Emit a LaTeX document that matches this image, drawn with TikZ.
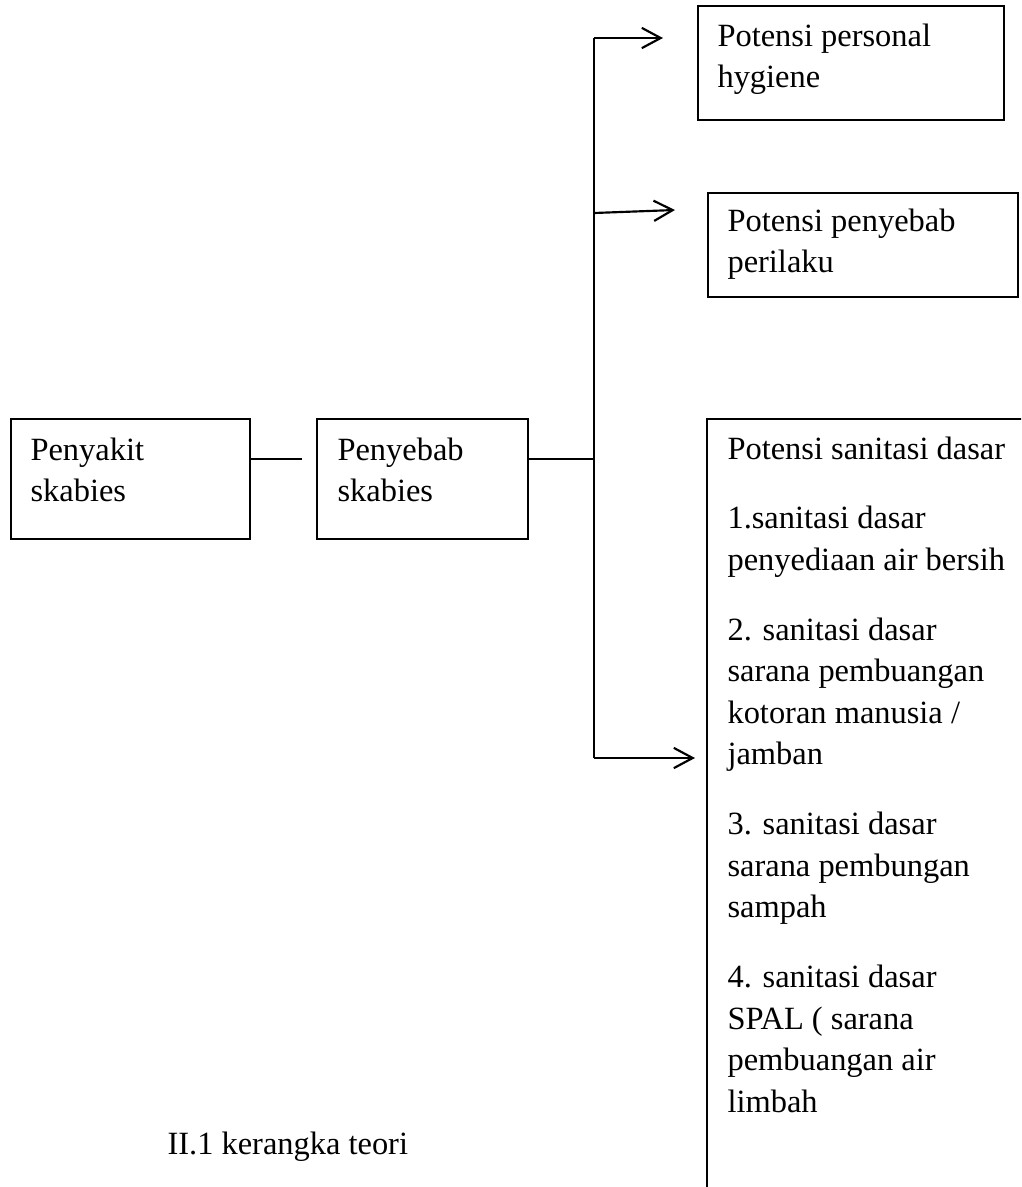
\documentclass[tikz,border=0pt]{standalone}
\usepackage{fontspec}
\setmainfont{Liberation Serif}
\usetikzlibrary{arrows.meta}
\tikzset{
	box/.style={draw, line width=0.6pt, anchor=north west, inner sep=0pt},
	txt/.style={anchor=north west, inner sep=0pt, align=left, font=\fontsize{12pt}{15.35pt}\selectfont},
	link/.style={line width=0.75pt},
	pointer/.style={line width=0.8pt, -{Straight Barb[length=7pt, width=7.5pt]}}
}

\begin{document}
\begin{tikzpicture}[x=0.013cm, y=-0.013cm]
			%%%%% START %%%%%
			\useasboundingbox (0, 0) rectangle (1021, 1187);
			\clip (0, 0) rectangle (1021, 1187);
			
			\node[box, minimum width=239*0.013cm, minimum height=120*0.013cm] (boxPenyakit) at (10, 418) {};
			\node[txt] (txtPenyakit) at (30, 437) {Penyakit\\skabies};
			
			\node[box, minimum width=211*0.013cm, minimum height=120*0.013cm] (boxPenyebab) at (316, 418) {};
			\node[txt] (txtPenyebab) at (337, 437) {Penyebab\\skabies};
			
			\node[box, minimum width=306*0.013cm, minimum height=114*0.013cm] (boxPersonal) at (697, 5) {};
			\node[txt] (txtPersonal) at (717, 23) {Potensi personal\\hygiene};
			
			\node[box, minimum width=310*0.013cm, minimum height=104*0.013cm] (boxPerilaku) at (707, 192) {};
			\node[txt] (txtPerilaku) at (727, 208) {Potensi penyebab\\perilaku};
			
			\node[box, minimum width=340*0.013cm, minimum height=800*0.013cm] (boxSanitasi) at (706, 418) {};
			\node[txt] (txtSanitasi) at (727, 436) {Potensi sanitasi dasar\\[10.5pt]
				1.sanitasi dasar\\
				penyediaan air bersih\\[10.5pt]
				2. sanitasi dasar\\
				sarana pembuangan\\
				kotoran manusia /\\
				jamban\\[10.5pt]
				3. sanitasi dasar\\
				sarana pembungan\\
				sampah\\[10.5pt]
				4. sanitasi dasar\\
				SPAL ( sarana\\
				pembuangan air\\
				limbah};
			
			\node[anchor=base west, inner sep=0pt, font=\fontsize{12pt}{15.35pt}\selectfont] (caption) at (167, 1154) {II.1 kerangka teori};
			
			% trunk and branches
			\coordinate (gapEnd) at (302, 459);
			\coordinate (trunkTop) at (594, 38);
			\coordinate (trunkMid) at (594, 459);
			\coordinate (trunkBranch) at (594, 213);
			\coordinate (trunkBot) at (594, 758);
			\coordinate (tipPersonal) at (663, 38);
			\coordinate (tipPerilaku) at (675, 210);
			\coordinate (tipSanitasi) at (695, 758);
			
			\draw[link] (boxPenyakit.east |- gapEnd) -- (gapEnd);
			\draw[link] (boxPenyebab.east |- trunkMid) -- (trunkMid);
			\draw[link] (trunkTop) -- (trunkBot);
			\draw[pointer] (trunkTop) -- (tipPersonal);
			\draw[pointer] (trunkBranch) -- (tipPerilaku);
			\draw[pointer] (trunkBot) -- (tipSanitasi);
			%%%%% END %%%%%
\end{tikzpicture}
\end{document}
